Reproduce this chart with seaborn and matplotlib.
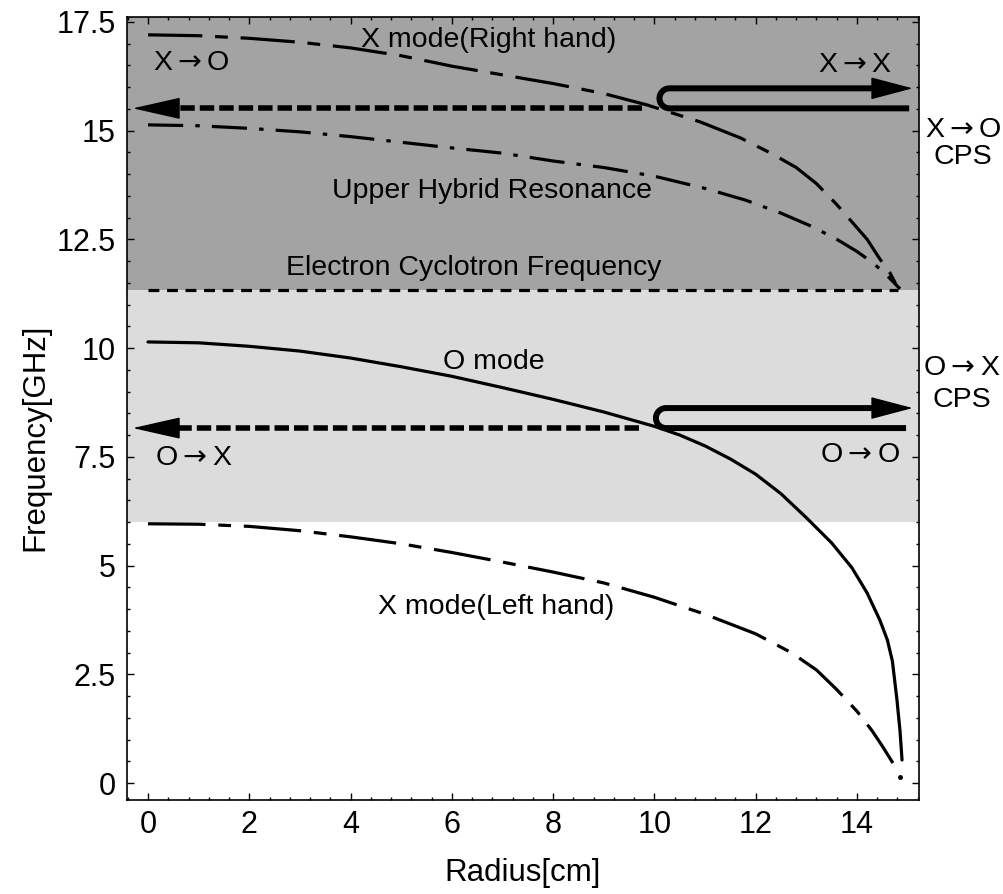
import numpy as np
import pandas as pd
import matplotlib
matplotlib.use("Agg")
import matplotlib.pyplot as plt
from matplotlib.ticker import MultipleLocator, FormatStrFormatter
import seaborn as sns

# ---- dispersion curves: radius [cm] vs. frequency [GHz] ----
r_xr = [0, 1, 2, 3, 4, 5, 6, 7, 8, 9, 9.85, 10.9, 11.7, 12.3, 12.8, 13.2,
        13.6, 13.9, 14.2, 14.45, 14.65, 14.8]
f_xr = [17.2, 17.18, 17.12, 17.03, 16.9, 16.72, 16.48, 16.28, 16.08, 15.85,
        15.59, 15.2, 14.83, 14.48, 14.15, 13.78, 13.3, 12.9, 12.5, 12.05,
        11.73, 11.4]

r_uh = [0, 1, 2, 3, 4, 5, 6, 7, 8, 9, 10, 11, 11.8, 12.5, 13.1, 13.6, 14.0,
        14.3, 14.55, 14.75, 14.85]
f_uh = [15.13, 15.11, 15.05, 14.97, 14.86, 14.73, 14.6, 14.48, 14.3, 14.15,
        13.95, 13.67, 13.4, 13.1, 12.8, 12.5, 12.22, 11.97, 11.72, 11.48, 11.36]

r_ec = [0, 14.82]
f_ec = [11.34, 11.34]

r_o = [0, 1, 2, 3, 4, 5, 6, 7, 8, 9, 10, 10.5, 11, 11.5, 12, 12.5, 13, 13.5,
       13.9, 14.2, 14.45, 14.6, 14.7, 14.79, 14.85, 14.89]
f_o = [10.14, 10.12, 10.04, 9.93, 9.77, 9.57, 9.35, 9.09, 8.82, 8.53, 8.2,
       8.0, 7.75, 7.45, 7.1, 6.65, 6.1, 5.52, 4.95, 4.37, 3.75, 3.29, 2.8,
       1.91, 1.2, 0.53]

r_xl = [0, 1, 2, 3, 4, 5, 6, 7, 8, 9, 10, 11, 12, 12.7, 13.2, 13.6, 14.0,
        14.3, 14.5, 14.71]
f_xl = [5.96, 5.95, 5.9, 5.8, 5.66, 5.5, 5.3, 5.08, 4.85, 4.6, 4.27, 3.88,
        3.43, 3.0, 2.6, 2.15, 1.65, 1.2, 0.85, 0.46]

# ---- shaded frequency bands ----
band_upper = [11.34, 17.8]
band_middle = [6.0, 11.34]

# ---- mode-conversion arrows ----
x_cut_freq = [15.51, 15.97]   # X-mode: launched / reflected
o_cut_freq = [8.16, 8.62]     # O-mode: launched / reflected
x_turn_r = 10.1
o_turn_r = 10.03
dash_start_r = [9.75, 9.7]

sns.set_style("ticks")
plt.rcParams["font.family"] = ["Liberation Sans", "DejaVu Sans"]
plt.rcParams.update({"text.color": "black", "axes.labelcolor": "black",
                     "xtick.color": "black", "ytick.color": "black",
                     "mathtext.fontset": "dejavusans"})

fig = plt.figure(figsize=(10.04, 8.94), dpi=100)
ax = fig.add_axes([127 / 1004, 1 - 800 / 894, 792 / 1004, 783 / 894])

ax.axhspan(*band_upper, color="#a3a3a3", lw=0, zorder=0)
ax.axhspan(*band_middle, color="#dcdcdc", lw=0, zorder=0)

frames = [
    pd.DataFrame({"r": r_xr, "f": f_xr, "curve": "X mode (R)"}),
    pd.DataFrame({"r": r_uh, "f": f_uh, "curve": "UHR"}),
    pd.DataFrame({"r": r_ec, "f": f_ec, "curve": "ECF"}),
    pd.DataFrame({"r": r_o, "f": f_o, "curve": "O mode"}),
    pd.DataFrame({"r": r_xl, "f": f_xl, "curve": "X mode (L)"}),
]
df = pd.concat(frames, ignore_index=True)
dash_map = {
    "X mode (R)": (17, 4, 4, 4),
    "UHR": (11, 3.8, 1.4, 3.8),
    "ECF": (3.4, 2.4),
    "O mode": "",
    "X mode (L)": (18, 4, 4, 4),
}
sns.lineplot(data=df, x="r", y="f", hue="curve", style="curve",
             palette={k: "black" for k in dash_map}, dashes=dash_map,
             sort=False, estimator=None, lw=2.3, legend=False, ax=ax,
             zorder=3)
# small terminating dot of the left-hand X mode
ax.plot([14.85], [0.14], "o", color="k", ms=2.5, zorder=3)


def head(x_tip, y, length, half_w):
    """Filled arrow head pointing to (x_tip, y); length in data units."""
    ax.annotate("", xy=(x_tip, y), xytext=(x_tip - length, y),
                arrowprops=dict(arrowstyle=f"-|>,head_length={abs(length) * 50.64 / 1.389:.1f},"
                                           f"head_width={half_w}",
                                mutation_scale=1, lw=1, color="k",
                                shrinkA=0, shrinkB=0), zorder=5)


# dashed arrows towards the plasma centre
tip_left = -0.3
for y, x0 in zip([x_cut_freq[0], o_cut_freq[0]], dash_start_r):
    hl = 0.85
    ax.plot([x0, tip_left + hl * 0.95], [y, y], color="k", lw=4,
            dashes=(2.6, 0.9), solid_capstyle="butt", zorder=4)
    head(tip_left, y, -hl, 7)

# U-shaped reflected/transmitted arrows towards the wall
tip_right = 15.1
for (f_lo, f_hi), x_turn, lo_end in [(x_cut_freq, x_turn_r, 15.03),
                                      (o_cut_freq, o_turn_r, 14.97)]:
    rx = 0.2
    cy = 0.5 * (f_lo + f_hi)
    ry = 0.5 * (f_hi - f_lo)
    t = np.linspace(1.5 * np.pi, 0.5 * np.pi, 40)
    xs = np.concatenate([[lo_end], x_turn + rx + rx * np.cos(t), [tip_right - 0.7]])
    ys = np.concatenate([[f_lo], cy + ry * np.sin(t), [f_hi]])
    ax.plot(xs, ys, color="k", lw=4.3, solid_capstyle="butt",
            solid_joinstyle="round", zorder=4)
    head(tip_right, f_hi, 0.75, 7.2)

# ---- labels inside the plot ----
tfs = 20.5
ARW = r"$\rightarrow$"
ax.text(6.73, 17.08, "X mode(Right hand)", fontsize=tfs, ha="center", va="center", zorder=6)
ax.text(13.96, 16.51, f"X{ARW}X", fontsize=tfs, ha="center", va="center", zorder=6)
ax.text(0.85, 16.56, f"X{ARW}O", fontsize=tfs, ha="center", va="center", zorder=6)
ax.text(6.79, 13.61, "Upper Hybrid Resonance", fontsize=tfs, ha="center", va="center", zorder=6)
ax.text(6.44, 11.84, "Electron Cyclotron Frequency", fontsize=tfs, ha="center", va="center", zorder=6)
ax.text(6.83, 9.68, "O mode", fontsize=tfs, ha="center", va="center", zorder=6)
ax.text(0.91, 7.47, f"O{ARW}X", fontsize=tfs, ha="center", va="center", zorder=6)
ax.text(14.06, 7.54, f"O{ARW}O", fontsize=tfs, ha="center", va="center", zorder=6)
ax.text(6.87, 4.05, "X mode(Left hand)", fontsize=tfs, ha="center", va="center", zorder=6)

# labels beside the right frame
for txt, x, y in [(f"X{ARW}O", 16.1, 15.01), ("CPS", 16.1, 14.39),
                  (f"O{ARW}X", 16.07, 9.54), ("CPS", 16.07, 8.81)]:
    ax.text(x, y, txt, fontsize=tfs, ha="center", va="center", clip_on=False)

# ---- axes ----
ax.set_xlim(-0.415, 15.225)
ax.set_ylim(-0.39, 17.61)
ax.set_xticks(np.arange(0, 15, 2))
ax.set_yticks(np.arange(0, 17.6, 2.5))
ax.yaxis.set_major_formatter(FormatStrFormatter("%g"))
ax.xaxis.set_minor_locator(MultipleLocator(0.4))
ax.yaxis.set_minor_locator(MultipleLocator(0.5))
ax.tick_params(which="both", direction="in", top=True, right=True,
               width=1.0, color="k", labelsize=22)
ax.tick_params(which="major", length=5)
ax.tick_params(which="minor", length=2.5)
ax.tick_params(axis="x", pad=7)
ax.tick_params(axis="y", pad=8)
for s in ax.spines.values():
    s.set_linewidth(1.2)
    s.set_color("k")

ax.set_xlabel("Radius[cm]", fontsize=22.5)
ax.set_ylabel("Frequency[GHz]", fontsize=22.5)
ax.xaxis.set_label_coords(0.5, -0.074)
ax.yaxis.set_label_coords(-0.097, 0.4636)

fig.savefig("out.png", dpi=100)
